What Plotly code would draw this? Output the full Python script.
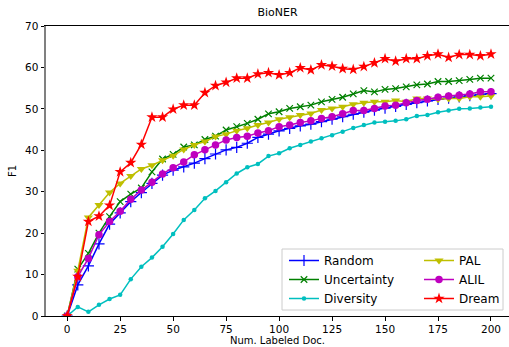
import plotly.graph_objects as go

docs = [0, 5, 10, 15, 20, 25, 30, 35, 40, 45, 50, 55, 60, 65, 70, 75, 80, 85, 90, 95, 100,
        105, 110, 115, 120, 125, 130, 135, 140, 145, 150, 155, 160, 165, 170, 175, 180, 185, 190, 195, 200]

random_f1 = [0, 7.5, 12.1, 17.4, 22.2, 24.9, 27.6, 29.8, 32.0, 34.0, 35.2, 36.0, 36.9, 38.0, 39.1, 40.1, 40.7,
             41.7, 43.1, 43.9, 44.7, 45.3, 45.9, 46.3, 46.9, 47.5, 48.1, 48.7, 49.2, 49.7, 50.2, 50.6, 51.1,
             51.5, 51.9, 52.3, 52.6, 52.9, 53.2, 53.5, 53.7]
uncertainty_f1 = [0, 11.3, 15.1, 20.0, 24.0, 27.6, 29.4, 30.9, 34.8, 37.9, 39.0, 40.8, 41.3, 42.6, 43.4, 44.9,
                  45.7, 46.5, 47.5, 48.8, 49.3, 50.1, 50.5, 50.9, 51.7, 52.3, 52.8, 53.6, 54.4, 54.1, 54.7, 54.9,
                  55.3, 55.8, 56.0, 56.6, 56.6, 56.8, 57.1, 57.4, 57.4]
diversity_f1 = [0, 2.2, 1.0, 2.7, 4.1, 5.1, 8.9, 11.9, 14.1, 16.7, 19.8, 23.2, 25.6, 28.4, 30.2, 32.3, 34.4,
                35.9, 36.7, 38.6, 39.3, 40.5, 41.3, 42.1, 42.9, 43.6, 44.5, 45.4, 46.1, 46.7, 46.9, 47.1, 47.5,
                48.3, 48.5, 49.2, 49.6, 50.0, 50.1, 50.3, 50.5]
pal_f1 = [0, 10.9, 23.8, 26.8, 29.8, 32.0, 33.8, 35.5, 36.4, 37.6, 38.7, 40.2, 41.3, 42.1, 43.3, 43.9, 44.7,
          45.3, 46.1, 46.7, 47.5, 48.0, 48.5, 48.9, 49.7, 50.1, 50.5, 51.1, 51.5, 51.7, 51.7, 52.0, 51.7,
          52.5, 52.5, 52.3, 52.5, 52.5, 52.9, 52.9, 53.1]
alil_f1 = [0, 9.5, 13.9, 19.6, 22.8, 25.3, 28.2, 30.4, 32.3, 34.3, 35.8, 37.2, 38.9, 40.1, 41.3, 42.5, 43.1,
           43.4, 44.2, 44.7, 45.7, 46.1, 46.7, 47.1, 47.7, 48.1, 48.8, 49.6, 49.6, 50.1, 50.7, 50.9, 51.5,
           52.0, 52.3, 52.8, 53.1, 53.3, 53.6, 54.1, 54.1]
dream_f1 = [0, 9.5, 22.8, 24.1, 26.7, 34.8, 37.0, 41.4, 48.0, 48.0, 49.9, 50.9, 50.9, 53.9, 55.6, 56.4, 57.4,
            57.4, 58.4, 58.7, 58.2, 58.7, 59.9, 59.4, 60.6, 60.3, 59.7, 59.5, 60.2, 61.1, 62.1, 61.5, 62.1,
            62.1, 62.8, 63.2, 62.4, 63.1, 63.1, 62.8, 63.2]

x_ticks = [0, 25, 50, 75, 100, 125, 150, 175, 200]
y_ticks = [0, 10, 20, 30, 40, 50, 60, 70]

# name, values, colour, symbol, size, legend column
series = [
    ("Random", random_f1, "#0000ff", "cross-thin", 8, "legend"),
    ("Uncertainty", uncertainty_f1, "#008000", "x-thin", 6.5, "legend"),
    ("Diversity", diversity_f1, "#00bfbf", "circle", 4.5, "legend"),
    ("PAL", pal_f1, "#bfbf00", "triangle-down", 8, "legend2"),
    ("ALIL", alil_f1, "#bf00bf", "circle", 7.5, "legend2"),
    ("Dream", dream_f1, "#ff0000", "star", 8.5, "legend2"),
]

FONT = "DejaVu Sans"
W, H = 509, 347
ML, MR, MT, MB = 46, 0, 26, 31
PW, PH = W - ML - MR, H - MT - MB


def px_x(p):
    return (p - ML) / PW


def px_y(p):
    return (H - MB - p) / PH


fig = go.Figure()
for name, vals, color, sym, size, leg in series:
    thin = sym.endswith("-thin")
    fig.add_trace(go.Scatter(
        x=docs, y=vals, name=name, mode="lines+markers",
        line=dict(color=color, width=1.5),
        marker=dict(symbol=sym, size=size, color=color,
                    line=dict(color=color, width=1.2 if thin else 0)),
        legend=leg,
    ))

leg_common = dict(
    orientation="v", xanchor="left", yanchor="top",
    bgcolor="rgba(0,0,0,0)", borderwidth=0,
    font=dict(size=12, family=FONT), itemwidth=30, tracegroupgap=0,
)

fig.update_layout(
    width=W, height=H,
    margin=dict(l=ML, r=MR, t=MT, b=MB, autoexpand=False),
    paper_bgcolor="white", plot_bgcolor="white",
    font=dict(family=FONT, size=10, color="#000000"),
    title=dict(text="BioNER", x=0.5, xref="paper", xanchor="center",
               y=1 - 12 / H, yref="container", yanchor="middle",
               font=dict(size=11, family=FONT)),
    showlegend=True,
    legend=dict(x=px_x(284), y=px_y(246), **leg_common),
    legend2=dict(x=px_x(419), y=px_y(246), **leg_common),
    shapes=[dict(type="rect", xref="paper", yref="paper",
                 x0=px_x(282), x1=px_x(503), y0=px_y(310), y1=px_y(249),
                 fillcolor="rgba(255,255,255,0.85)", line=dict(color="#cccccc", width=1),
                 layer="above")],
)
fig.update_xaxes(
    range=[-10, 208.5], tickvals=x_ticks, ticks="outside", ticklen=3.5, tickwidth=1,
    tickcolor="#000000", showgrid=False, zeroline=False, automargin=False,
    showline=True, linecolor="#000000", linewidth=1, mirror=True,
    tickfont=dict(size=10.5, family=FONT),
    title=dict(text="Num. Labeled Doc.", font=dict(size=10, family=FONT), standoff=0),
)
fig.update_yaxes(
    range=[0, 70], tickvals=y_ticks, ticks="outside", ticklen=3.5, tickwidth=1,
    tickcolor="#000000", showgrid=False, zeroline=False, automargin=False,
    showline=True, linecolor="#808080", linewidth=2,
    tickfont=dict(size=10.5, family=FONT),
    title=dict(text="F1", font=dict(size=10, family=FONT), standoff=7),
)

fig.write_html("out.html", config={"displayModeBar": False},
               post_script="document.body.style.margin='0';")
